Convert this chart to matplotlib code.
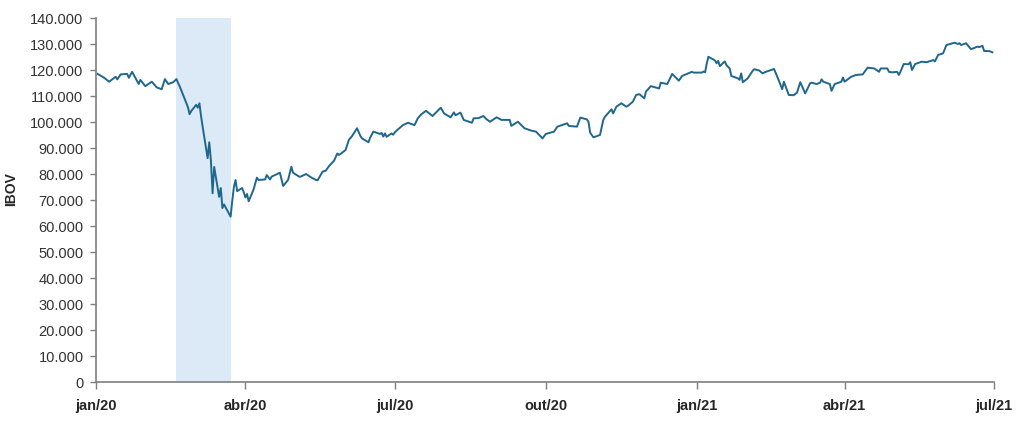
import pandas as pd
import matplotlib.pyplot as plt
from matplotlib.ticker import FuncFormatter

plt.rcParams['font.family'] = ['Liberation Sans', 'DejaVu Sans']

# --- dados (IBOV, em pontos) ---
datas = [
    "2020-01-02", "2020-01-06", "2020-01-09", "2020-01-13", "2020-01-14", "2020-01-16",
    "2020-01-20", "2020-01-21", "2020-01-23", "2020-01-27", "2020-01-28", "2020-01-31",
    "2020-02-04", "2020-02-07", "2020-02-10", "2020-02-12", "2020-02-14", "2020-02-17",
    "2020-02-19", "2020-02-20", "2020-02-21", "2020-02-26", "2020-02-27", "2020-02-28",
    "2020-03-02", "2020-03-03", "2020-03-04", "2020-03-05", "2020-03-06", "2020-03-09",
    "2020-03-10", "2020-03-11", "2020-03-12", "2020-03-13", "2020-03-16", "2020-03-17",
    "2020-03-18", "2020-03-19", "2020-03-20", "2020-03-23", "2020-03-24", "2020-03-25",
    "2020-03-26", "2020-03-27", "2020-03-30", "2020-03-31", "2020-04-01", "2020-04-02",
    "2020-04-03", "2020-04-06", "2020-04-07", "2020-04-08", "2020-04-09", "2020-04-13",
    "2020-04-14", "2020-04-16", "2020-04-17", "2020-04-22", "2020-04-24", "2020-04-27",
    "2020-04-29", "2020-04-30", "2020-05-04", "2020-05-05", "2020-05-08", "2020-05-11",
    "2020-05-14", "2020-05-15", "2020-05-18", "2020-05-20", "2020-05-22", "2020-05-25",
    "2020-05-27", "2020-05-28", "2020-06-01", "2020-06-03", "2020-06-05", "2020-06-08",
    "2020-06-10", "2020-06-11", "2020-06-15", "2020-06-16", "2020-06-18", "2020-06-22",
    "2020-06-23", "2020-06-24", "2020-06-25", "2020-06-26", "2020-06-29", "2020-06-30",
    "2020-07-01", "2020-07-03", "2020-07-06", "2020-07-09", "2020-07-13", "2020-07-15",
    "2020-07-17", "2020-07-20", "2020-07-24", "2020-07-28", "2020-07-29", "2020-07-31",
    "2020-08-04", "2020-08-06", "2020-08-07", "2020-08-10", "2020-08-12", "2020-08-17",
    "2020-08-18", "2020-08-21", "2020-08-24", "2020-08-26", "2020-08-28", "2020-09-01",
    "2020-09-04", "2020-09-09", "2020-09-10", "2020-09-14", "2020-09-18", "2020-09-22",
    "2020-09-25", "2020-09-29", "2020-10-01", "2020-10-06", "2020-10-08", "2020-10-14",
    "2020-10-15", "2020-10-20", "2020-10-22", "2020-10-26", "2020-10-27", "2020-10-28",
    "2020-10-30", "2020-11-03", "2020-11-05", "2020-11-06", "2020-11-10", "2020-11-11",
    "2020-11-13", "2020-11-16", "2020-11-19", "2020-11-20", "2020-11-23", "2020-11-25",
    "2020-11-27", "2020-11-30", "2020-12-01", "2020-12-04", "2020-12-09", "2020-12-10",
    "2020-12-14", "2020-12-17", "2020-12-21", "2020-12-23", "2020-12-29", "2020-12-30",
    "2021-01-04", "2021-01-05", "2021-01-06", "2021-01-07", "2021-01-08", "2021-01-12",
    "2021-01-13", "2021-01-14", "2021-01-15", "2021-01-18", "2021-01-19", "2021-01-21",
    "2021-01-22", "2021-01-26", "2021-01-27", "2021-01-28", "2021-01-29", "2021-02-01",
    "2021-02-04", "2021-02-05", "2021-02-08", "2021-02-10", "2021-02-12", "2021-02-17",
    "2021-02-19", "2021-02-22", "2021-02-23", "2021-02-26", "2021-03-01", "2021-03-03",
    "2021-03-05", "2021-03-08", "2021-03-11", "2021-03-12", "2021-03-15", "2021-03-17",
    "2021-03-18", "2021-03-19", "2021-03-23", "2021-03-24", "2021-03-26", "2021-03-30",
    "2021-03-31", "2021-04-01", "2021-04-05", "2021-04-08", "2021-04-12", "2021-04-15",
    "2021-04-19", "2021-04-22", "2021-04-23", "2021-04-27", "2021-04-28", "2021-04-30",
    "2021-05-03", "2021-05-04", "2021-05-05", "2021-05-07", "2021-05-10", "2021-05-11",
    "2021-05-12", "2021-05-14", "2021-05-18", "2021-05-21", "2021-05-25", "2021-05-26",
    "2021-05-28", "2021-05-31", "2021-06-02", "2021-06-07", "2021-06-09", "2021-06-10",
    "2021-06-11", "2021-06-14", "2021-06-17", "2021-06-21", "2021-06-22", "2021-06-24",
    "2021-06-25", "2021-06-28", "2021-06-30",
]
ibov_mil = [
    118.5, 117.0, 115.5, 117.4, 116.4, 118.3,
    118.5, 117.0, 119.3, 114.6, 116.2, 113.8,
    115.5, 113.3, 112.6, 116.5, 114.6, 115.3,
    116.5, 115.0, 113.7, 105.7, 103.0, 104.2,
    106.6, 105.5, 107.2, 102.2, 98.0, 86.1,
    92.2, 85.2, 72.6, 82.7, 71.2, 74.6,
    66.9, 68.3, 67.1, 63.6, 69.7, 75.0,
    77.7, 73.4, 74.6, 73.0, 71.0, 72.3,
    69.5, 74.1, 76.4, 78.6, 77.7, 77.9,
    79.6, 77.9, 79.0, 80.5, 75.4, 77.7,
    82.8, 80.5, 78.9, 79.1, 80.0, 78.7,
    77.7, 77.6, 80.9, 81.3, 83.1, 85.1,
    87.9, 87.3, 89.2, 93.1, 94.6, 97.6,
    94.7, 93.7, 92.2, 94.0, 96.3, 95.4,
    95.8, 94.4, 95.6, 94.3, 95.6, 95.1,
    96.0, 97.2, 98.8, 99.7, 98.8, 101.4,
    102.9, 104.3, 102.3, 104.9, 105.5, 103.3,
    101.8, 103.7, 102.6, 103.6, 100.8, 99.7,
    101.4, 101.5, 102.3, 101.0, 100.1, 101.8,
    100.8, 100.8, 98.5, 100.1, 97.6, 96.7,
    96.3, 93.7, 95.4, 96.3, 98.2, 99.5,
    98.5, 98.2, 101.7, 101.0, 100.1, 95.9,
    94.1, 95.0, 100.8, 102.0, 104.9, 103.3,
    105.9, 107.2, 105.9, 106.2, 107.8, 110.4,
    110.7, 109.1, 111.7, 113.8, 112.9, 115.1,
    114.6, 118.5, 115.9, 117.7, 119.3, 119.0,
    119.0, 119.4, 119.1, 122.4, 125.1, 123.7,
    122.6, 123.5, 121.5, 123.3, 121.9, 120.6,
    117.7, 116.8, 116.2, 118.7, 115.3, 116.8,
    119.7, 120.3, 119.8, 118.7, 119.3, 120.4,
    117.4, 112.6, 115.5, 110.4, 110.3, 111.3,
    115.3, 111.0, 114.9, 115.1, 114.6, 115.1,
    116.4, 115.5, 114.6, 112.0, 114.6, 115.5,
    117.1, 115.5, 117.4, 118.1, 118.3, 120.9,
    120.6, 119.3, 120.6, 120.6, 119.3, 119.1,
    119.3, 118.1, 119.3, 122.3, 122.2, 123.0,
    120.0, 122.3, 123.2, 123.0, 123.8, 123.3,
    125.8, 126.4, 129.6, 130.5, 130.0, 130.3,
    129.6, 130.3, 128.0, 129.0, 128.8, 129.3,
    127.3, 127.3, 126.8,
]

ticks_x = ["2020-01-01", "2020-04-01", "2020-07-01", "2020-10-01",
           "2021-01-01", "2021-04-01", "2021-07-01"]
rotulos_x = ["jan/20", "abr/20", "jul/20", "out/20", "jan/21", "abr/21", "jul/21"]
periodo_queda = ("2020-02-19", "2020-03-23")

serie = pd.Series([v * 1000 for v in ibov_mil], index=pd.to_datetime(datas))

fig = plt.figure(figsize=(10.24, 4.21), dpi=100)
ax = fig.add_axes([96 / 1024, 39 / 421, 898 / 1024, 364 / 421])

ax.axvspan(pd.Timestamp(periodo_queda[0]), pd.Timestamp(periodo_queda[1]),
           color='#dce9f7', lw=0, zorder=1)
ax.plot(serie.index, serie.values, color='#1f678c', lw=1.4, zorder=2)

ax.set_xlim(pd.Timestamp(ticks_x[0]), pd.Timestamp(ticks_x[-1]))
ax.set_ylim(0, 140000)
ax.set_xticks(pd.to_datetime(ticks_x))
ax.set_xticklabels(rotulos_x, fontsize=10.5, fontweight='bold', color='#262626')
ax.set_yticks(range(0, 140001, 10000))
ax.yaxis.set_major_formatter(FuncFormatter(lambda v, p: f"{int(v):,}".replace(",", ".")))

for s in ['top', 'right']:
    ax.spines[s].set_visible(False)
for s in ['left', 'bottom']:
    ax.spines[s].set_color('#7f7f7f')
    ax.spines[s].set_linewidth(1.2)

ax.tick_params(axis='y', length=4, width=1, color='#7f7f7f', labelsize=10.5,
               labelcolor='#333333', pad=5)
ax.tick_params(axis='x', length=5, width=1, color='#7f7f7f', pad=7)

ax.set_ylabel('IBOV', fontsize=10, fontweight='bold', color='#262626')
ax.yaxis.set_label_coords(-0.087, 0.53)

plt.savefig('out.png', dpi=100)
